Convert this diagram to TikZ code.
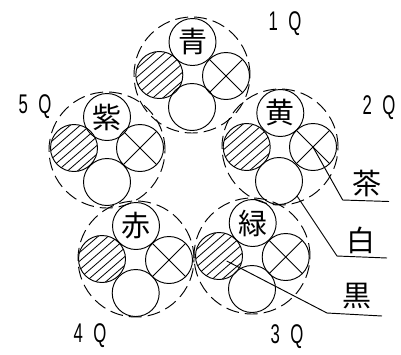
\documentclass[tikz,border=0pt]{standalone}
\usepackage{fontspec}
\setmainfont{Liberation Sans}
\newfontfamily\cjk{Noto Sans CJK JP}
\begin{document}
\begin{tikzpicture}[x=1pt,y=-1pt,line width=0.95pt,
  core/.style={circle,draw,minimum size=47pt,inner sep=0pt,outer sep=0pt},
  colored/.style={core,font=\cjk\fontsize{29}{29}\selectfont},
  hatched/.style={core,path picture={
    \foreach \k in {-4,...,4}{
      \draw[line width=0.8pt] ([shift={(\k*10pt-30pt,-26pt)}]path picture bounding box.center) -- ++(60pt,52pt);
    }}},
  crossed/.style={core,path picture={
    \draw (path picture bounding box.north west) -- (path picture bounding box.south east);
    \draw (path picture bounding box.north east) -- (path picture bounding box.south west);}},
  bundle/.style={circle,draw,dash pattern=on 13pt off 6pt,minimum size=116pt,inner sep=0pt},
  qlabel/.style={font=\fontsize{27}{27}\selectfont,xscale=0.62,inner sep=0pt},
  callout/.style={font=\cjk\fontsize{29}{29}\selectfont,inner sep=0pt},
  leader/.style={line width=0.95pt}]
\useasboundingbox (0,0) rectangle (401,354);
\fill[white] (0,0) rectangle (401,354);
% bundle 1
\node[bundle] (b1) at (192,75) {};
\node[colored] (c1) at (192.5,42) {青};
\node[core,hatched] (h1) at (159.3,75) {};
\node[core,crossed] (x1) at (226,76) {};
\node[core] (w1) at (192,107) {};
% bundle 2
\node[bundle] (b2) at (280,147) {};
\node[colored] (c2) at (280.3,113) {黄};
\node[core,hatched] (h2) at (246.7,147) {};
\node[core,crossed] (x2) at (313,147) {};
\node[core] (w2) at (279,181) {};
% bundle 3
\node[bundle] (b3) at (252,256) {};
\node[colored] (c3) at (252.7,223) {緑};
\node[core,hatched] (h3) at (219,256) {};
\node[core,crossed] (x3) at (285.7,257) {};
\node[core] (w3) at (252,289) {};
% bundle 4
\node[bundle] (b4) at (136,259) {};
\node[colored] (c4) at (136,226) {赤};
\node[core,hatched] (h4) at (102,259) {};
\node[core,crossed] (x4) at (169,260) {};
\node[core] (w4) at (135.7,293) {};
% bundle 5
\node[bundle] (b5) at (107,150) {};
\node[colored] (c5) at (107,117) {紫};
\node[core,hatched] (h5) at (74,148) {};
\node[core,crossed] (x5) at (140,148) {};
\node[core] (w5) at (107,182) {};
% count labels
\node[qlabel] (q1) at (285,24) {1\hspace{9pt} Q};
\node[qlabel] (q2) at (379,108) {2\hspace{9pt} Q};
\node[qlabel] (q3) at (287,337) {3\hspace{9pt} Q};
\node[qlabel] (q4) at (90,336) {4\hspace{9pt} Q};
\node[qlabel] (q5) at (35,107) {5\hspace{9pt} Q};
% callouts
\node[callout] (tea) at (366.5,183) {茶};
\node[callout] (wht) at (361,240) {白};
\node[callout] (blk) at (357,296) {黒};
\coordinate (teaA) at (342.7,200);
\coordinate (teaB) at (389,201.5);
\coordinate (whtS) at (297,196);
\coordinate (whtA) at (337,256);
\coordinate (whtB) at (387,258);
\coordinate (blkS) at (226.7,261);
\coordinate (blkA) at (327,313);
\coordinate (blkB) at (382,316);
\draw[leader] (x2.center) -- (teaA) -- (teaB);
\draw[leader] (whtS) -- (whtA) -- (whtB);
\draw[leader] (blkS) -- (blkA) -- (blkB);
\end{tikzpicture}
\end{document}
